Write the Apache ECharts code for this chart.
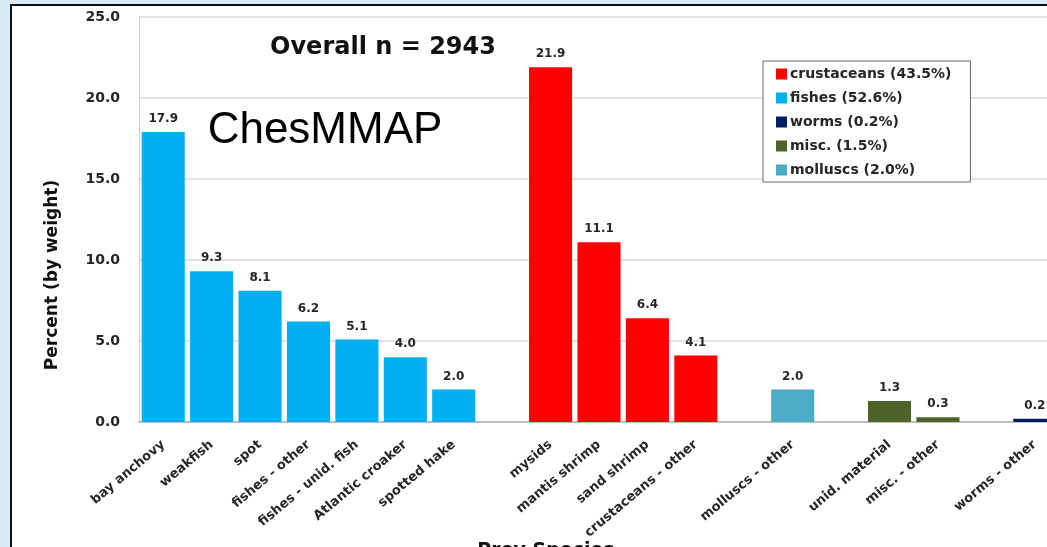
<!DOCTYPE html>
<html>
<head>
<meta charset="utf-8">
<script src="https://cdn.jsdelivr.net/npm/echarts@6/dist/echarts.min.js"></script>
<style>
  html, body { margin: 0; padding: 0; background: #d9eaf8; overflow: hidden; }
  #frame { position: absolute; left: 10px; top: 4px; width: 1100px; height: 600px;
           border: 2px solid #111; background: #fff; }
  /* the plot runs past the right edge of the window, as in the original */
  #chart { position: absolute; left: 0; top: 0; width: 1059px; height: 547px; }
</style>
</head>
<body>
<div id="frame"></div>
<div id="chart"></div>
<script>
// prey categories (blank entries are the spacer slots between groups)
const categories = [
  "bay anchovy", "weakfish", "spot", "fishes - other", "fishes - unid. fish",
  "Atlantic croaker", "spotted hake", " ",
  "mysids", "mantis shrimp", "sand shrimp", "crustaceans - other", "  ",
  "molluscs - other", "   ",
  "unid. material", "misc. - other", "    ",
  "worms - other"
];

// percent by weight, one array per prey group
const crustaceans = ["-", "-", "-", "-", "-", "-", "-", "-", 21.9, 11.1, 6.4, 4.1, "-", "-", "-", "-", "-", "-", "-"];
const fishes      = [17.9, 9.3, 8.1, 6.2, 5.1, 4.0, 2.0, "-", "-", "-", "-", "-", "-", "-", "-", "-", "-", "-", "-"];
const worms       = ["-", "-", "-", "-", "-", "-", "-", "-", "-", "-", "-", "-", "-", "-", "-", "-", "-", "-", 0.2];
const misc        = ["-", "-", "-", "-", "-", "-", "-", "-", "-", "-", "-", "-", "-", "-", "-", 1.3, 0.3, "-", "-"];
const molluscs    = ["-", "-", "-", "-", "-", "-", "-", "-", "-", "-", "-", "-", "-", 2.0, "-", "-", "-", "-", "-"];

const groupNames = ["crustaceans (43.5%)", "fishes (52.6%)", "worms (0.2%)", "misc. (1.5%)", "molluscs (2.0%)"];
const groupData = [crustaceans, fishes, worms, misc, molluscs];
const groupColors = ["#ff0000", "#00b0f0", "#002060", "#4f6228", "#4bacc6"];

const font = "'DejaVu Sans', 'Open Sans', sans-serif";

const chart = echarts.init(document.getElementById("chart"));

const series = groupNames.map((name, i) => ({
  name: name,
  type: "bar",
  stack: "all",
  barCategoryGap: "11%",
  data: groupData[i],
  itemStyle: { color: groupColors[i] },
  label: {
    show: true,
    position: "top",
    distance: 7,
    color: "#262626",
    fontFamily: font,
    fontWeight: "bold",
    fontSize: 12,
    formatter: p => Number(p.value).toFixed(1)
  }
}));

chart.setOption({
  animation: false,
  backgroundColor: "transparent",
  grid: { left: 139, right: 0, top: 17, bottom: 125 },
  legend: {
    orient: "vertical",
    left: 763,
    top: 61,
    padding: [6, 19, 5, 13],
    itemGap: 10,
    itemWidth: 11,
    itemHeight: 11,
    borderColor: "#666",
    borderWidth: 1,
    backgroundColor: "#fff",
    icon: "rect",
    textStyle: { fontFamily: font, fontWeight: "bold", fontSize: 14, color: "#262626", padding: [0, 0, 0, -2] },
    data: groupNames
  },
  xAxis: {
    type: "category",
    data: categories,
    axisLine: { lineStyle: { color: "#bfbfbf", width: 2 } },
    axisTick: { show: false },
    axisLabel: {
      interval: 0,
      rotate: 40,
      margin: 21,
      color: "#262626",
      fontFamily: font,
      fontWeight: "bold",
      fontSize: 13
    }
  },
  yAxis: {
    type: "value",
    min: 0,
    max: 25,
    interval: 5,
    axisLine: { show: true, lineStyle: { color: "#d0d0d0" } },
    axisTick: { show: false },
    splitLine: { lineStyle: { color: "#d9d9d9", width: 1.5 } },
    axisLabel: {
      margin: 19,
      color: "#262626",
      fontFamily: font,
      fontWeight: "bold",
      fontSize: 14,
      formatter: v => v.toFixed(1)
    }
  },
  graphic: [
    {
      type: "text",
      x: 53, y: 275, rotation: Math.PI / 2,
      style: {
        text: "Percent (by weight)", fill: "#111", font: "bold 17px " + font,
        textAlign: "center", textVerticalAlign: "middle"
      }
    },
    {
      type: "text",
      x: 383, y: 48,
      style: {
        text: "Overall n = 2943", fill: "#111", font: "bold 24px " + font,
        textAlign: "center", textVerticalAlign: "middle"
      }
    },
    {
      type: "text",
      x: 325, y: 131,
      style: {
        text: "ChesMMAP", fill: "#000", font: "44px 'Liberation Sans', Arial, sans-serif",
        textAlign: "center", textVerticalAlign: "middle"
      }
    },
    {
      type: "text",
      x: 546, y: 542,
      style: {
        text: "Prey Species", fill: "#111", font: "bold 19px " + font,
        textAlign: "center", textVerticalAlign: "top"
      }
    }
  ],
  series: series
});
</script>
</body>
</html>
